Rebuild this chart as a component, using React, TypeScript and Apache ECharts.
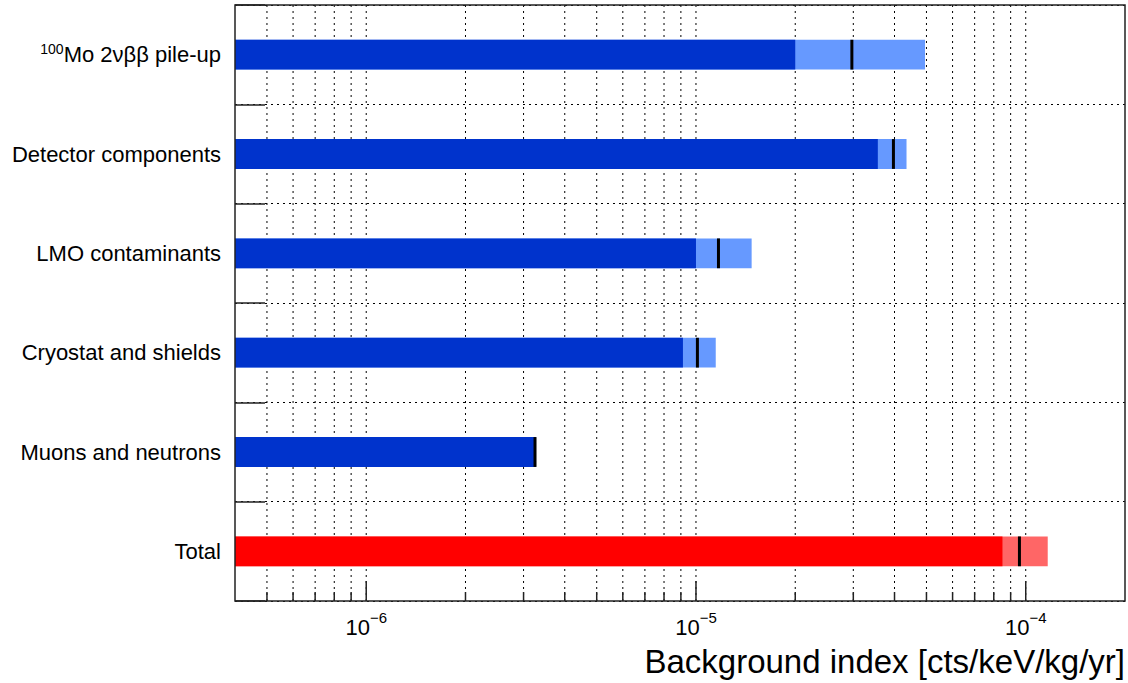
import React, { useEffect, useRef } from 'react';
import * as echarts from 'echarts';

const categories = [
  '100Mo 2νββ pile-up',
  'Detector components',
  'LMO contaminants',
  'Cryostat and shields',
  'Muons and neutrons',
  'Total',
];
const lowValues = [2.0e-5, 3.56e-5, 1.0e-5, 9.13e-6, 3.27e-6, 8.5e-5];
const centralValues = [2.97e-5, 3.97e-5, 1.17e-5, 1.01e-5, 3.25e-6, 9.57e-5];
const highValues = [4.95e-5, 4.35e-5, 1.475e-5, 1.148e-5, 3.27e-6, 1.166e-4];

const xMin = 4e-7;
const xMax = 2e-4;
const gridValues = [
  5e-7, 6e-7, 7e-7, 8e-7, 9e-7,
  1e-6, 2e-6, 3e-6, 4e-6, 5e-6, 6e-6, 7e-6, 8e-6, 9e-6,
  1e-5, 2e-5, 3e-5, 4e-5, 5e-5, 6e-5, 7e-5, 8e-5, 9e-5,
  1e-4,
];
const majorTicks = [1e-6, 1e-5, 1e-4];

const FONT = '"Liberation Sans", Arial, Helvetica, sans-serif';

export default function App() {
  const ref = useRef<HTMLDivElement>(null);
  useEffect(() => {
    if (!ref.current) return;
    const chart = echarts.init(ref.current, undefined, { renderer: 'svg' });
    const option: any = {
      animation: false,
      backgroundColor: '#fff',
      textStyle: { fontFamily: FONT },
      title: {
        text: 'Background index [cts/keV/kg/yr]',
        right: 3,
        top: 645,
        padding: 0,
        textStyle: { fontSize: 33, fontWeight: 'normal', color: '#000', fontFamily: FONT },
      },
      grid: {
        left: 235,
        right: 3,
        top: 5,
        bottom: 82,
        show: true,
        borderColor: '#222',
        borderWidth: 1.5,
        backgroundColor: 'transparent',
        z: 10,
      },
      xAxis: {
        type: 'log',
        logBase: 10,
        min: xMin,
        max: xMax,
        axisLine: { show: false },
        axisTick: { show: false },
        splitLine: { show: false },
        minorSplitLine: { show: false },
        axisLabel: {
          margin: 9,
          formatter: (v: number) => {
            const e = Math.round(Math.log10(v));
            if (Math.abs(v - Math.pow(10, e)) / v > 1e-6) return '';
            return '{b|10}{s|' + (e < 0 ? '−' : '') + Math.abs(e) + '}';
          },
          rich: {
            b: { fontSize: 22, lineHeight: 28, verticalAlign: 'bottom', color: '#000', fontFamily: FONT },
            s: { fontSize: 15, lineHeight: 10, verticalAlign: 'top', color: '#000', fontFamily: FONT },
          },
        },
      },
      yAxis: {
        type: 'category',
        inverse: true,
        data: categories,
        axisLine: { show: false },
        axisTick: {
          show: true,
          inside: true,
          length: 30,
          interval: 0,
          lineStyle: { color: '#222', width: 1.5 },
        },
        splitLine: {
          show: true,
          interval: 0,
          lineStyle: { color: '#000', type: [2, 4], width: 1 },
        },
        axisLabel: {
          margin: 14,
          interval: 0,
          fontSize: 22,
          color: '#000',
          fontFamily: FONT,
          formatter: (v: string) => {
            if (v.startsWith('100Mo')) return '{s|100}{t|' + v.slice(3) + '}';
            return '{t|' + v + '}';
          },
          rich: {
            t: { fontSize: 22, lineHeight: 26, color: '#000', fontFamily: FONT },
            s: { fontSize: 14, lineHeight: 12, verticalAlign: 'top', color: '#000', fontFamily: FONT },
          },
        },
      },
      series: [
        {
          type: 'custom',
          name: 'grid',
          z: 1,
          silent: true,
          data: gridValues.map((v) => [v, 0]),
          encode: { x: 0, y: 1 },
          renderItem: (params: any, api: any) => {
            const v = api.value(0);
            const cs = params.coordSys;
            const x = api.coord([v, 0])[0];
            const top = cs.y;
            const bottom = cs.y + cs.height;
            const len = majorTicks.includes(v) ? 20 : 9;
            return {
              type: 'group',
              children: [
                {
                  type: 'line',
                  shape: { x1: x, y1: top, x2: x, y2: bottom },
                  style: { stroke: '#000', lineWidth: 1, lineDash: [2, 4] },
                },
                {
                  type: 'line',
                  shape: { x1: x, y1: bottom, x2: x, y2: bottom - len },
                  style: { stroke: '#222', lineWidth: 1.5 },
                },
              ],
            };
          },
        },
        {
          type: 'custom',
          name: 'background',
          z: 5,
          data: categories.map((_, i) => [i, lowValues[i], centralValues[i], highValues[i]]),
          encode: { y: 0, x: [1, 2, 3] },
          renderItem: (params: any, api: any) => {
            const i = api.value(0);
            const low = api.value(1);
            const mid = api.value(2);
            const high = api.value(3);
            const cs = params.coordSys;
            const band = cs.height / categories.length;
            const h = band * 0.3;
            const yc = api.coord([xMin, i])[1];
            const x0 = cs.x;
            const xl = api.coord([low, i])[0];
            const xc = api.coord([mid, i])[0];
            const xh = api.coord([high, i])[0];
            const isTotal = categories[i] === 'Total';
            const dark = isTotal ? '#ff0000' : '#0033cc';
            const light = isTotal ? '#ff6666' : '#6699ff';
            return {
              type: 'group',
              children: [
                { type: 'rect', shape: { x: x0, y: yc - h / 2, width: xh - x0, height: h }, style: { fill: light } },
                { type: 'rect', shape: { x: x0, y: yc - h / 2, width: xl - x0, height: h }, style: { fill: dark } },
                { type: 'rect', shape: { x: xc - 1.5, y: yc - h / 2, width: 3, height: h }, style: { fill: '#000' } },
              ],
            };
          },
        },
      ],
    };
    chart.setOption(option);
    return () => chart.dispose();
  }, []);
  return (
    <div
      ref={ref}
      style={{ position: 'absolute', left: 0, top: 0, width: 1128, height: 683, background: '#fff' }}
    />
  );
}
